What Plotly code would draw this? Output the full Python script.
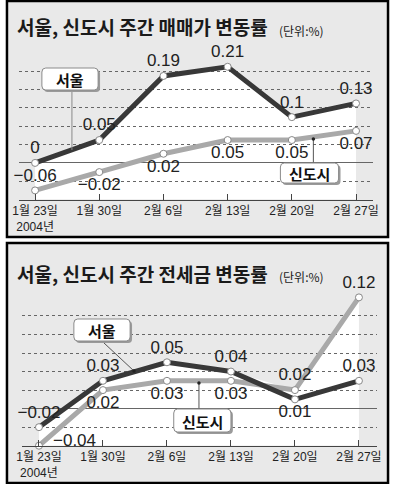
import numpy as np
import plotly.graph_objects as go

# ---------------- data ----------------
categories = ["1월 23일<br>2004년", "1월 30일", "2월 6일", "2월 13일", "2월 20일", "2월 27일"]

sale_seoul = [0, 0.05, 0.19, 0.21, 0.10, 0.13]
sale_newtown = [-0.06, -0.02, 0.02, 0.05, 0.05, 0.07]

jeonse_seoul = [-0.02, 0.03, 0.05, 0.04, 0.01, 0.03]
jeonse_newtown = [-0.04, 0.02, 0.03, 0.03, 0.02, 0.12]

title_top = "서울, 신도시 주간 매매가 변동률"
title_bottom = "서울, 신도시 주간 전세금 변동률"
unit_text = "(단위:%)"
name_seoul = "서울"
name_newtown = "신도시"

# ---------------- styling ----------------
W, H = 395, 484
PANEL = "#e9e9e9"
DARK = "#383838"
LIGHT = "#a9a9a9"
NUMFONT = "Liberation Sans, Arial, sans-serif"
KRFONT = "Noto Sans CJK KR, sans-serif"
TICKFONT = "Liberation Sans Narrow, Liberation Sans, Noto Sans CJK KR, sans-serif"

top_range = [-0.0801, 0.2401]
bot_range = [-0.0401, 0.1201]


def px(x):
    return x / W


def py(y):
    return 1 - y / H


def fmt(v):
    return f"{v:g}".replace("-", "\u2212")


xs = list(range(len(categories)))

pos_top_seoul = ["top center"] * 6
pos_top_new = ["top center", "bottom center", "bottom center", "bottom center", "bottom center", "bottom center"]
pos_bot_seoul = ["top center", "top center", "top center", "top center", "bottom center", "top center"]
pos_bot_new = ["middle right", "bottom center", "bottom center", "bottom center", "top center", "top center"]
# labels drawn as shifted annotations instead of trace text (series key, point index, xshift, yshift)
shifted_labels = [("bot_new", 0, 36, 5)]

fig = go.Figure()
annotations = []


def add_series(key, vals, color, positions, xa, ya):
    texts = [fmt(v) for v in vals]
    for k, i, dx, dy in shifted_labels:
        if k == key:
            annotations.append(dict(x=xs[i], y=vals[i], xref=xa, yref=ya, text=texts[i], showarrow=False,
                                    xshift=dx, yshift=dy, xanchor="center", yanchor="middle",
                                    font=dict(family=NUMFONT, size=17, color="#222")))
            texts[i] = ""
    fig.add_trace(go.Scatter(
        x=xs, y=vals, mode="lines+markers+text",
        line=dict(color=color, width=5),
        marker=dict(size=7, color="white", line=dict(color="#888", width=1)),
        text=texts, textposition=positions,
        textfont=dict(family=NUMFONT, size=17, color="#222"),
        cliponaxis=False, hoverinfo="skip", showlegend=False,
        xaxis=xa, yaxis=ya,
    ))


add_series("top_new", sale_newtown, LIGHT, pos_top_new, "x", "y")
add_series("top_seoul", sale_seoul, DARK, pos_top_seoul, "x", "y")
add_series("bot_new", jeonse_newtown, LIGHT, pos_bot_new, "x2", "y2")
add_series("bot_seoul", jeonse_seoul, DARK, pos_bot_seoul, "x2", "y2")

shapes = []
# panels
shapes.append(dict(type="rect", xref="paper", yref="paper", x0=px(1), x1=px(394), y0=py(237), y1=py(1),
                   fillcolor=PANEL, line=dict(color="black", width=2.5), layer="below"))
shapes.append(dict(type="rect", xref="paper", yref="paper", x0=px(1), x1=px(394), y0=py(483), y1=py(243),
                   fillcolor=PANEL, line=dict(color="black", width=2.5), layer="below"))


def env_path(vals, ymin):
    p = f"M {xs[0]},{ymin}"
    for x, v in zip(xs, vals):
        p += f" L {x},{v}"
    p += f" L {xs[-1]},{ymin} Z"
    return p


env_top = np.maximum(sale_seoul, sale_newtown)
env_bot = np.maximum(jeonse_seoul, jeonse_newtown)
shapes.append(dict(type="path", xref="x", yref="y", path=env_path(env_top, -0.08),
                   fillcolor="white", line=dict(width=0), layer="below"))
shapes.append(dict(type="path", xref="x2", yref="y2", path=env_path(env_bot, -0.04),
                   fillcolor="white", line=dict(width=0), layer="below"))


def rrect(x0, y0, x1, y1, r=4):
    pts = (f"M {px(x0 + r)},{py(y0)} L {px(x1 - r)},{py(y0)} Q {px(x1)},{py(y0)} {px(x1)},{py(y0 + r)} "
           f"L {px(x1)},{py(y1 - r)} Q {px(x1)},{py(y1)} {px(x1 - r)},{py(y1)} "
           f"L {px(x0 + r)},{py(y1)} Q {px(x0)},{py(y1)} {px(x0)},{py(y1 - r)} "
           f"L {px(x0)},{py(y0 + r)} Q {px(x0)},{py(y0)} {px(x0 + r)},{py(y0)} Z")
    return pts


def label_box(x0, y0, x1, y1, text):
    shapes.append(dict(type="path", xref="paper", yref="paper", path=rrect(x0 + 2, y0 + 2, x1 + 2, y1 + 2),
                       fillcolor="#9a9a9a", line=dict(width=0), layer="above"))
    shapes.append(dict(type="path", xref="paper", yref="paper", path=rrect(x0, y0, x1, y1),
                       fillcolor="white", line=dict(color="#8a8a8a", width=1), layer="above"))
    annotations.append(dict(x=px((x0 + x1) / 2), y=py((y0 + y1) / 2 + 0.5), xref="paper", yref="paper",
                            text=f"<b>{text}</b>", showarrow=False, xanchor="center", yanchor="middle",
                            font=dict(family=KRFONT, size=15, color="#111")))


def connector(x0, y0, x1, y1, dot=True, color="#777"):
    shapes.append(dict(type="line", xref="paper", yref="paper", x0=px(x0), y0=py(y0), x1=px(x1), y1=py(y1),
                       line=dict(color=color, width=1), layer="above"))
    if dot:
        shapes.append(dict(type="circle", xref="paper", yref="paper", x0=px(x1 - 1.8), x1=px(x1 + 1.8),
                           y0=py(y1 + 1.8), y1=py(y1 - 1.8), fillcolor="#222", line=dict(width=0), layer="above"))


# top panel callouts
connector(68, 90, 68, 150, dot=False, color="#8a8a8a")
label_box(37, 68, 95, 90, name_seoul)
connector(317, 163, 317, 139, dot=True, color="#555")
label_box(283, 163, 343, 183, name_newtown)
# bottom panel callouts
connector(100, 342, 132, 371, dot=True, color="#555")
label_box(70, 319, 128, 341, name_seoul)
connector(199, 409, 199, 383, dot=True, color="#555")
label_box(173, 409, 232, 432, name_newtown)

# titles
for ytitle, t in [(27, title_top), (273, title_bottom)]:
    annotations.append(dict(x=px(9), y=py(ytitle), xref="paper", yref="paper", text=f"<b>{t}</b>",
                            showarrow=False, xanchor="left", yanchor="middle",
                            font=dict(family=KRFONT, size=19, color="#1a1a1a")))
    annotations.append(dict(x=px(280), y=py(ytitle + 3), xref="paper", yref="paper", text=unit_text,
                            showarrow=False, xanchor="left", yanchor="middle",
                            font=dict(family=KRFONT, size=12, color="#1a1a1a")))

xcommon = dict(tickmode="array", tickvals=xs, ticktext=categories, showgrid=False, zeroline=False,
               showline=True, linecolor="#444", linewidth=1, ticks="inside", ticklen=6, tickcolor="#444",
               tickfont=dict(family=TICKFONT, size=12, color="#222"), fixedrange=True)
ycommon = dict(showticklabels=False, showgrid=True, gridcolor="#666", griddash="dot", gridwidth=1,
               zeroline=True, zerolinecolor="#666", zerolinewidth=1, tick0=0, showline=False, ticks="",
               fixedrange=True)

fig.update_layout(
    width=W, height=H,
    margin=dict(l=0, r=0, t=0, b=0),
    paper_bgcolor="white", plot_bgcolor="rgba(0,0,0,0)",
    showlegend=False,
    xaxis=dict(domain=[px(13), px(378)], range=[-17 / 66.2, 5 + 17 / 66.2], anchor="y", **xcommon),
    yaxis=dict(domain=[py(199.6), py(53)], range=top_range, dtick=0.04, anchor="x", **ycommon),
    xaxis2=dict(domain=[px(17), px(383)], range=[-17 / 66, 5 + 19 / 66], anchor="y2", **xcommon),
    yaxis2=dict(domain=[py(445.8), py(297.3)], range=bot_range, dtick=0.02, anchor="x2", **ycommon),
    shapes=shapes, annotations=annotations,
)

fig.write_html(
    "out.html",
    config={"displayModeBar": False},
    post_script="document.body.style.margin='0';document.body.style.overflow='hidden';",
)
